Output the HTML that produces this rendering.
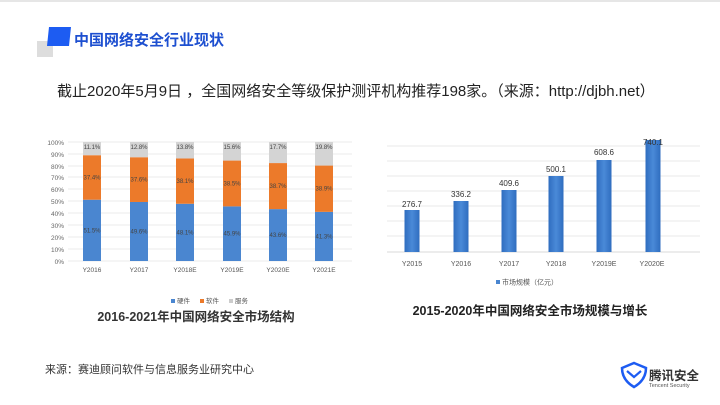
<!DOCTYPE html><html><head><meta charset="utf-8"><style>
body{margin:0;width:720px;height:405px;background:#fff;position:relative;overflow:hidden;font-family:"Liberation Sans","Noto Sans CJK SC",sans-serif}
.a{position:absolute;white-space:nowrap}
</style></head><body>
<div class="a" style="left:0;top:0;width:720px;height:2px;background:#e6e6e6"></div>
<div class="a" style="left:37px;top:41px;width:16px;height:16px;background:#ddd"></div>
<div class="a" style="left:48px;top:27px;width:22px;height:19px;background:#1d5cf2;transform:skewX(-6deg)"></div>
<div class="a" style="left:74px;top:29px;font-size:15px;font-weight:bold;color:#1d4fd0">中国网络安全行业现状</div>
<div class="a" style="left:57px;top:80px;font-size:15px;color:#222">截止2020年5月9日 ，全国网络安全等级保护测评机构推荐198家。（来源：http://djbh.net）</div>
<svg class="a" style="left:0;top:0" width="720" height="405" font-family="Liberation Sans, Noto Sans CJK SC, sans-serif">
<g stroke="#e4e4e4" stroke-width="0.7">
<line x1="68" x2="352" y1="142" y2="142"/><line x1="68" x2="352" y1="154" y2="154"/><line x1="68" x2="352" y1="166" y2="166"/><line x1="68" x2="352" y1="177" y2="177"/><line x1="68" x2="352" y1="189" y2="189"/><line x1="68" x2="352" y1="201" y2="201"/><line x1="68" x2="352" y1="213" y2="213"/><line x1="68" x2="352" y1="225" y2="225"/><line x1="68" x2="352" y1="237" y2="237"/><line x1="68" x2="352" y1="249" y2="249"/><line x1="68" x2="352" y1="261" y2="261"/>
</g>
<g font-size="6.5" fill="#666" text-anchor="end">
<text x="64" y="145">100%</text><text x="64" y="157">90%</text><text x="64" y="169">80%</text><text x="64" y="180">70%</text><text x="64" y="192">60%</text><text x="64" y="204">50%</text><text x="64" y="216">40%</text><text x="64" y="228">30%</text><text x="64" y="240">20%</text><text x="64" y="252">10%</text><text x="64" y="264">0%</text>
</g>
<g id="L"></g>
<g font-size="6.5" fill="#555" text-anchor="middle">
<text x="92" y="272">Y2016</text><text x="139" y="272">Y2017</text><text x="185" y="272">Y2018E</text><text x="232" y="272">Y2019E</text><text x="278" y="272">Y2020E</text><text x="324" y="272">Y2021E</text>
</g>
<rect x="171" y="299" width="4" height="4" fill="#4a86d0"/><text x="177" y="303" font-size="6.5" fill="#555">硬件</text>
<rect x="200" y="299" width="4" height="4" fill="#ec7a2a"/><text x="206" y="303" font-size="6.5" fill="#555">软件</text>
<rect x="229" y="299" width="4" height="4" fill="#ccc"/><text x="235" y="303" font-size="6.5" fill="#555">服务</text>
<text x="196" y="321" font-size="12.5" font-weight="bold" fill="#333" text-anchor="middle">2016-2021年中国网络安全市场结构</text>

<g stroke="#e2e2e2" stroke-width="0.7">
<line x1="387" x2="700" y1="146" y2="146"/><line x1="387" x2="700" y1="161" y2="161"/><line x1="387" x2="700" y1="176" y2="176"/><line x1="387" x2="700" y1="191" y2="191"/><line x1="387" x2="700" y1="206" y2="206"/><line x1="387" x2="700" y1="221" y2="221"/><line x1="387" x2="700" y1="236" y2="236"/><line x1="387" x2="700" y1="252" y2="252" stroke="#ccc"/>
</g>
<defs><linearGradient id="g" x1="0" x2="1"><stop offset="0" stop-color="#2f6dbf"/><stop offset=".5" stop-color="#4a8ad8"/><stop offset="1" stop-color="#2f6dbf"/></linearGradient></defs>
<g fill="url(#g)">
<rect x="404.5" y="210" width="15" height="42"/><rect x="453.5" y="201" width="15" height="51"/><rect x="501.5" y="190" width="15" height="62"/><rect x="548.5" y="176" width="15" height="76"/><rect x="596.5" y="160" width="15" height="92"/><rect x="645.5" y="140" width="15" height="112"/>
</g>
<g font-size="8" fill="#333" text-anchor="middle">
<text x="412" y="207">276.7</text><text x="461" y="197">336.2</text><text x="509" y="186">409.6</text><text x="556" y="172">500.1</text><text x="604" y="155">608.6</text><text x="653" y="145">740.1</text>
</g>
<g font-size="7" fill="#555" text-anchor="middle">
<text x="412" y="266">Y2015</text><text x="461" y="266">Y2016</text><text x="509" y="266">Y2017</text><text x="556" y="266">Y2018</text><text x="604" y="266">Y2019E</text><text x="652" y="266">Y2020E</text>
</g>
<rect x="496" y="280" width="4" height="4" fill="#4a86d0"/><text x="502" y="284.5" font-size="7" fill="#555">市场规模（亿元）</text>
<text x="530" y="315" font-size="12.5" font-weight="bold" fill="#222" text-anchor="middle">2015-2020年中国网络安全市场规模与增长</text>

<path d="M622 368 L634 363 L646 368 Q646 380 634 387 Q622 380 622 368Z" fill="none" stroke="#1d5cf2" stroke-width="2.5"/>
<path d="M627 371 L634 377 L641 371" fill="none" stroke="#1d5cf2" stroke-width="2.2"/>
</svg>
<div class="a" style="left:649px;top:365px;font-size:12.5px;font-weight:bold;color:#333">腾讯安全</div>
<div class="a" style="left:649px;top:383px;font-size:5.5px;color:#555">Tencent Security</div>
<div class="a" style="left:45px;top:361px;font-size:11px;color:#333">来源：赛迪顾问软件与信息服务业研究中心</div>
<script>
var d=[[51.5,37.4,11.1],[49.6,37.6,12.8],[48.1,38.1,13.8],[45.9,38.5,15.6],[43.6,38.7,17.7],[41.3,38.9,19.8]];
var c=[92,139,185,232,278,324],g=document.getElementById('L'),s='';
var y0=261,h=119;
d.forEach(function(v,i){var x=c[i]-9,y=y0,cols=['#4a86d0','#ec7a2a','#d4d4d4'];
v.forEach(function(p,j){var hh=p/100*h;y-=hh;s+='<rect x="'+x+'" y="'+y+'" width="18" height="'+hh+'" fill="'+cols[j]+'"/>';
s+='<text x="'+c[i]+'" y="'+(j==2?y+7:y+hh/2+2)+'" font-size="6" fill="#444" text-anchor="middle">'+p.toFixed(1)+'%</text>';});});
g.innerHTML=s;
</script>
</body></html>
